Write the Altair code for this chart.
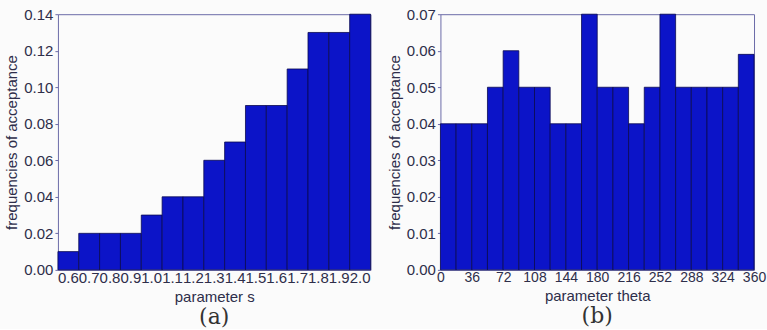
import altair as alt
import pandas as pd

# Panel (a): acceptance frequency per value of parameter s
s_values = ["0.6", "0.7", "0.8", "0.9", "1.0", "1.1", "1.2", "1.3",
            "1.4", "1.5", "1.6", "1.7", "1.8", "1.9", "2.0"]
s_freq = [0.01, 0.02, 0.02, 0.02, 0.03, 0.04, 0.04, 0.06,
          0.07, 0.09, 0.09, 0.11, 0.13, 0.13, 0.14]

# Panel (b): acceptance frequency per 18-degree bin of parameter theta
theta_lo = [0, 18, 36, 54, 72, 90, 108, 126, 144, 162,
            180, 198, 216, 234, 252, 270, 288, 306, 324, 342]
theta_hi = [18, 36, 54, 72, 90, 108, 126, 144, 162, 180,
            198, 216, 234, 252, 270, 288, 306, 324, 342, 360]
theta_freq = [0.04, 0.04, 0.04, 0.05, 0.06, 0.05, 0.05, 0.04, 0.04, 0.07,
              0.05, 0.05, 0.04, 0.05, 0.07, 0.05, 0.05, 0.05, 0.05, 0.059]
theta_ticks = [0, 36, 72, 108, 144, 180, 216, 252, 288, 324, 360]

df_a = pd.DataFrame({"s": s_values, "freq": s_freq})
df_b = pd.DataFrame({"lo": theta_lo, "hi": theta_hi, "freq": theta_freq})

BAR_FILL = "#0c14c8"
BAR_EDGE = "#0a0a50"
TEXT = "#2e2e4a"
FRAME = "#6a6aa8"
FONT = "Liberation Sans"

y_title = "frequencies of acceptance"

def caption(label):
    return alt.TitleParams(text=label, orient="bottom", font="DejaVu Serif",
                           fontSize=22, fontWeight="normal", color="#333333",
                           offset=2)

bar_a = alt.Chart(df_a, title=caption("(a)")).mark_bar(
    fill=BAR_FILL, stroke=BAR_EDGE, strokeWidth=0.8
).encode(
    x=alt.X("s:O", sort=s_values, title="parameter s",
            scale=alt.Scale(paddingInner=0, paddingOuter=0),
            axis=alt.Axis(labelAngle=0, ticks=False, domain=False,
                          labelPadding=1, labelOverlap=False)),
    y=alt.Y("freq:Q", title=y_title,
            scale=alt.Scale(domain=[0, 0.14], nice=False),
            axis=alt.Axis(values=[0, 0.02, 0.04, 0.06, 0.08, 0.10, 0.12, 0.14],
                          format=".2f", grid=False, domain=False,
                          tickSize=3, tickColor=FRAME)),
).properties(width=313, height=256)

bar_b = alt.Chart(df_b, title=caption("(b)")).mark_bar(
    fill=BAR_FILL, stroke=BAR_EDGE, strokeWidth=0.8
).encode(
    x=alt.X("lo:Q", title="parameter theta",
            scale=alt.Scale(domain=[0, 360], nice=False),
            axis=alt.Axis(values=theta_ticks, ticks=False, domain=False,
                          grid=False, labelPadding=1, labelOverlap=False,
                          labelFlush=False, labelFontSize=14)),
    x2="hi:Q",
    y=alt.Y("freq:Q", title=y_title,
            scale=alt.Scale(domain=[0, 0.07], nice=False),
            axis=alt.Axis(values=[0, 0.01, 0.02, 0.03, 0.04, 0.05, 0.06, 0.07],
                          format=".2f", grid=False, domain=False,
                          tickSize=3, tickColor=FRAME)),
    y2=alt.datum(0),
).properties(width=314, height=256)

chart = alt.hconcat(bar_a, bar_b, spacing=15).properties(
    padding={"left": 4, "top": 6, "right": 0, "bottom": 0},
    background="#fbfbfb",
).configure_view(
    stroke=FRAME, strokeWidth=1
).configure_axis(
    labelFont=FONT, labelFontSize=15, labelColor=TEXT,
    titleFont=FONT, titleFontSize=15, titleFontWeight="normal",
    titleColor=TEXT, titlePadding=4,
)

chart.save("out.html", embed_options={"renderer": "svg", "actions": False})
